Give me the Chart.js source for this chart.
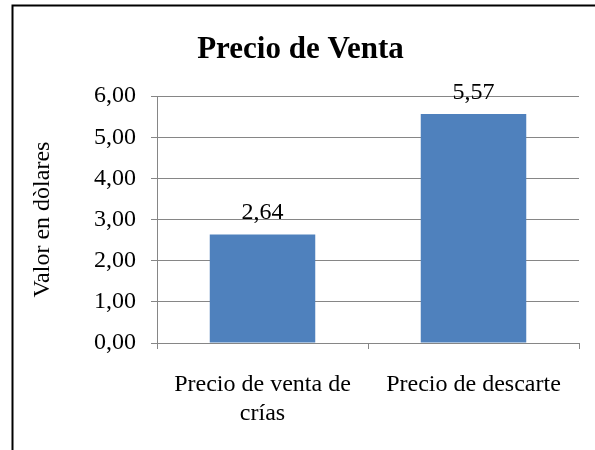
<!DOCTYPE html>
<html>
<head>
<meta charset="utf-8">
<script src="https://cdn.jsdelivr.net/npm/chart.js@4"></script>
<style>
  html, body { margin: 0; padding: 0; background: #fff; }
  #wrap { width: 595px; height: 450px; }
</style>
</head>
<body>
<div id="wrap"><canvas id="myChart" width="595" height="450"></canvas></div>
<script>
  // chart data
  const categories = [['Precio de venta de', 'crías'], 'Precio de descarte'];
  const values = [2.64, 5.57];
  const yTicks = [0, 1, 2, 3, 4, 5, 6];

  const fontFamily = '"Liberation Serif", "Times New Roman", serif';
  const axisGrey = '#868686';

  // frame around the chart (only top and left edges are visible in the picture)
  // also widens the letter spacing a bit, like the original export
  const framePlugin = {
    id: 'frame',
    beforeInit(chart) {
      chart.ctx.letterSpacing = '1.3px';
    },
    beforeDraw(chart) {
      const c = chart.ctx;
      c.save();
      c.fillStyle = '#fff';
      c.fillRect(0, 0, chart.width, chart.height);
      c.strokeStyle = '#000';
      c.lineWidth = 2;
      c.strokeRect(12.5, 5.5, chart.width, chart.height);
      c.restore();
    }
  };

  // value labels above the bars
  const valueLabels = {
    id: 'valueLabels',
    afterDatasetsDraw(chart) {
      const c = chart.ctx;
      const meta = chart.getDatasetMeta(0);
      c.save();
      c.font = '24px ' + fontFamily;
      c.fillStyle = '#000';
      c.textAlign = 'center';
      c.textBaseline = 'alphabetic';
      meta.data.forEach((bar, i) => {
        c.fillText(values[i].toFixed(2).replace('.', ','), bar.x, bar.y - 15);
      });
      c.restore();
    }
  };

  const ctx = document.getElementById('myChart').getContext('2d');

  const myChart = new Chart(ctx, {
    type: 'bar',
    data: {
      labels: categories,
      datasets: [{
        data: values,
        backgroundColor: '#4F81BD',
        borderWidth: 0,
        barPercentage: 0.5,
        categoryPercentage: 1.0
      }]
    },
    options: {
      responsive: false,
      animation: false,
      layout: { padding: { top: 0, right: 16, bottom: 0, left: 22 } },
      plugins: {
        legend: { display: false },
        tooltip: { enabled: false },
        title: {
          display: true,
          text: 'Precio de Venta',
          color: '#000',
          font: { family: fontFamily, size: 31, weight: 'bold', lineHeight: 1.2 },
          padding: { top: 31, bottom: 28 }
        }
      },
      scales: {
        x: {
          grid: {
            offset: true,
            drawOnChartArea: false,
            drawTicks: true,
            tickLength: 6,
            color: axisGrey
          },
          border: { color: axisGrey, width: 1 },
          ticks: {
            color: '#000',
            padding: 21,
            maxRotation: 0,
            font: { family: fontFamily, size: 24, lineHeight: 1.22 }
          },
          afterFit(scale) { scale.height = 107; }
        },
        y: {
          min: 0,
          max: 6,
          afterBuildTicks(scale) { scale.ticks = yTicks.map(v => ({ value: v })); },
          grid: { color: axisGrey, tickLength: 6, drawTicks: true },
          border: { color: axisGrey, width: 1 },
          ticks: {
            color: '#000',
            padding: 15,
            font: { family: fontFamily, size: 24 },
            callback: v => v.toFixed(2).replace('.', ',')
          },
          title: {
            display: true,
            text: 'Valor en dòlares',
            color: '#000',
            font: { family: fontFamily, size: 24, lineHeight: 1.2 },
            padding: { top: 6, bottom: 0 }
          },
          afterFit(scale) { scale.width = 135; }
        }
      }
    },
    plugins: [framePlugin, valueLabels]
  });
</script>
</body>
</html>
